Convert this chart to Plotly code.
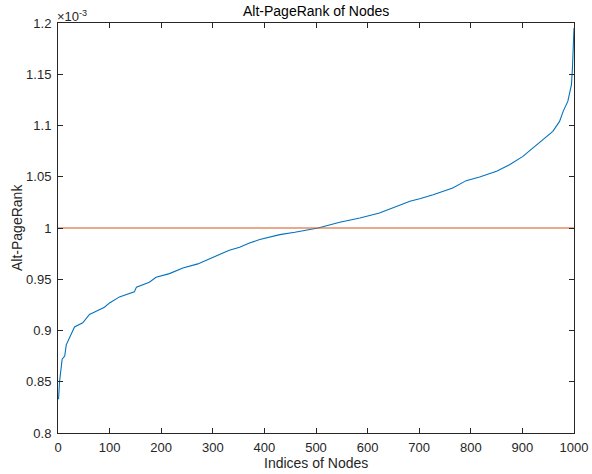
import plotly.graph_objects as go

# Node indices (sorted order) and Alt-PageRank values in units of 1e-3
node_index = [1, 3, 8, 13, 16, 23, 32, 48, 61, 71, 90, 100, 119, 148, 152, 177, 190, 216,
              242, 271, 300, 332, 352, 371, 391, 430, 459, 504, 546, 585, 623, 662, 682,
              701, 727, 765, 791, 817, 850, 875, 901, 920, 946, 959, 972, 979, 988, 995,
              997, 999, 1000]
alt_pagerank_e3 = [0.833, 0.85, 0.872, 0.875, 0.886, 0.893, 0.9035, 0.9075, 0.9156, 0.918,
                   0.9227, 0.9269, 0.9328, 0.9377, 0.9423, 0.9471, 0.952, 0.9555, 0.961,
                   0.965, 0.9714, 0.9783, 0.9812, 0.9854, 0.9887, 0.9935, 0.9958, 1.0,
                   1.0056, 1.0097, 1.0146, 1.0221, 1.0262, 1.0286, 1.0325, 1.039, 1.0462,
                   1.0497, 1.0553, 1.0618, 1.0699, 1.078, 1.0894, 1.0943, 1.104, 1.1138,
                   1.1235, 1.1397, 1.156, 1.1917, 1.195]
uniform_x = [0, 1000]
uniform_y = [1.0, 1.0]

x_ticks = [0, 100, 200, 300, 400, 500, 600, 700, 800, 900, 1000]
y_ticks = [0.8, 0.85, 0.9, 0.95, 1.0, 1.05, 1.1, 1.15, 1.2]
y_tick_text = ["0.8", "0.85", "0.9", "0.95", "1", "1.05", "1.1", "1.15", "1.2"]

font_family = "Liberation Sans, Arial, sans-serif"
axis_color = "#262626"

fig = go.Figure()
fig.add_trace(go.Scatter(x=node_index, y=alt_pagerank_e3, mode="lines",
                         line=dict(color="#0072BD", width=1.1), showlegend=False))
fig.add_trace(go.Scatter(x=uniform_x, y=uniform_y, mode="lines",
                         line=dict(color="#D95319", width=1.1), showlegend=False))

axis_common = dict(showgrid=False, zeroline=False, showline=True, linecolor=axis_color,
                   linewidth=1, mirror="ticks", ticks="inside", ticklen=5,
                   tickcolor=axis_color, automargin=False,
                   tickfont=dict(family=font_family, size=13, color=axis_color))

fig.update_xaxes(range=[0, 1000], tickvals=x_ticks, ticklabelstandoff=2, **axis_common)
fig.update_yaxes(range=[0.8, 1.2], tickvals=y_ticks, ticktext=y_tick_text,
                 ticklabelstandoff=3, **axis_common)

# Axis titles, plot title and exponent label as annotations for precise placement
fig.add_annotation(text="Indices of Nodes", xref="paper", yref="paper", x=0.5, y=0,
                   xanchor="center", yanchor="top", yshift=-20, showarrow=False,
                   font=dict(family=font_family, size=14, color=axis_color))
fig.add_annotation(text="Alt-PageRank", xref="paper", yref="paper", x=0, y=0.5,
                   xanchor="right", yanchor="middle", xshift=-31, textangle=-90,
                   showarrow=False,
                   font=dict(family=font_family, size=14, color=axis_color))
fig.add_annotation(text="Alt-PageRank of Nodes", xref="paper", yref="paper", x=0.5, y=1,
                   xanchor="center", yanchor="bottom", yshift=2, showarrow=False,
                   font=dict(family=font_family, size=14, color="black"))
fig.add_annotation(text="×10<sup>-3</sup>", xref="paper", yref="paper", x=0, y=1,
                   xanchor="left", yanchor="bottom", showarrow=False, xshift=-3, yshift=-3,
                   font=dict(family=font_family, size=13, color=axis_color))

fig.update_layout(
    width=592, height=474,
    margin=dict(l=58, r=18, t=23, b=41),
    plot_bgcolor="white", paper_bgcolor="white",
)

# Remove the page's default 8px body margin so the figure fills the window exactly.
fig.write_html("out.html", config={"displayModeBar": False},
               post_script="document.body.style.margin='0';")
